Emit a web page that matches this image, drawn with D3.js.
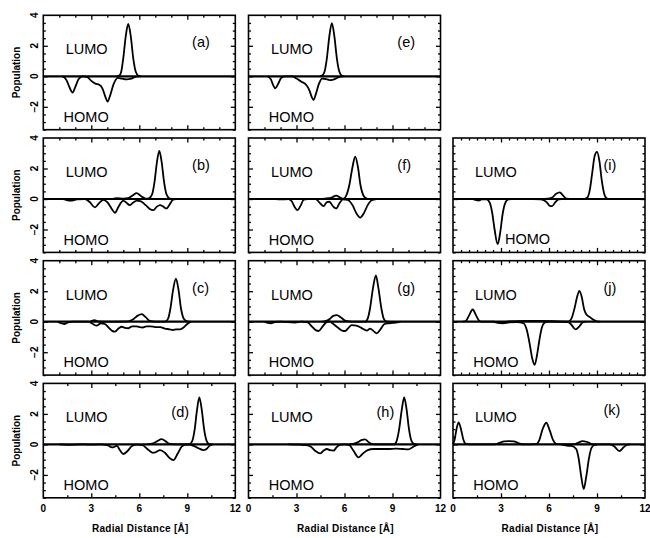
<!DOCTYPE html>
<html>
<head>
<meta charset="utf-8">
<script src="https://cdn.jsdelivr.net/npm/d3@7"></script>
<style>
  body { margin: 0; background: #fff; }
  text { font-family: "Liberation Sans", Arial, Helvetica, sans-serif; fill: #000; }
</style>
</head>
<body>
<svg id="chart" width="650" height="538"></svg>
<script>
// Axis tick labels
const xTickLabels = [0, 3, 6, 9, 12];
const yTickLabels = [-2, 0, 2, 4];
const panelNames = ["(a)", "(b)", "(c)", "(d)", "(e)", "(f)", "(g)", "(h)", "(i)", "(j)", "(k)"];

// Radial population profiles: [distance (Å), population]
const lumoA = [[4.6,0],[4.75,0.05],[4.87,0.3],[5.0,1.2],[5.15,2.6],[5.31,3.43],[5.47,2.6],[5.62,1.2],[5.78,0.3],[5.95,0.03],[6.1,0]];
const homoA = [[1.2,0],[1.45,-0.25],[1.65,-0.75],[1.83,-1.07],[2.0,-0.7],[2.2,-0.2],[2.45,0],[2.75,-0.05],[3.0,-0.3],[3.25,-0.48],[3.5,-0.55],[3.7,-0.8],[3.88,-1.35],[4.02,-1.66],[4.18,-1.25],[4.4,-0.5],[4.65,-0.1],[4.9,-0.15],[5.2,-0.2],[5.5,-0.15],[5.8,-0.02],[6.0,0]];

const lumoB = [[4.3,0],[4.6,0.05],[5.0,0.02],[5.3,0.05],[5.6,0.25],[5.83,0.38],[6.1,0.2],[6.4,0.02],[6.6,0.05],[6.8,0.3],[6.95,1.1],[7.1,2.4],[7.25,3.15],[7.4,2.4],[7.55,1.1],[7.7,0.3],[7.9,0.03],[8.1,0]];
const homoB = [[1.2,0],[1.5,-0.08],[1.8,-0.1],[2.1,-0.02],[2.6,0],[2.9,-0.2],[3.23,-0.55],[3.5,-0.25],[3.75,-0.05],[4.0,-0.2],[4.25,-0.6],[4.48,-0.9],[4.7,-0.5],[5.0,-0.1],[5.2,-0.25],[5.4,-0.4],[5.6,-0.25],[5.85,-0.1],[6.1,-0.15],[6.4,-0.4],[6.65,-0.65],[6.88,-0.73],[7.1,-0.5],[7.3,-0.4],[7.5,-0.5],[7.7,-0.62],[7.9,-0.35],[8.1,-0.05],[8.3,0]];

const lumoC = [[2.9,0],[3.2,0.1],[3.45,0.02],[4.0,0],[5.3,0.02],[5.6,0.15],[5.9,0.4],[6.15,0.5],[6.4,0.3],[6.65,0.05],[7.0,0],[7.6,0],[7.8,0.2],[7.95,0.9],[8.1,2.0],[8.29,2.83],[8.45,2.1],[8.6,0.9],[8.78,0.2],[9.0,0.02],[9.2,0]];
const homoC = [[0.9,0],[1.1,-0.1],[1.3,-0.15],[1.55,-0.05],[1.8,0],[2.8,0],[3.1,-0.15],[3.33,-0.26],[3.6,-0.1],[3.85,-0.15],[4.1,-0.4],[4.3,-0.6],[4.48,-0.65],[4.7,-0.45],[4.9,-0.33],[5.1,-0.4],[5.31,-0.43],[5.55,-0.3],[5.8,-0.3],[6.0,-0.35],[6.2,-0.38],[6.45,-0.3],[6.7,-0.3],[7.0,-0.35],[7.3,-0.35],[7.6,-0.45],[7.9,-0.5],[8.1,-0.55],[8.3,-0.5],[8.55,-0.5],[8.8,-0.35],[9.0,-0.15],[9.2,0]];

const lumoD = [[6.5,0],[6.8,0.05],[7.1,0.2],[7.4,0.35],[7.65,0.2],[7.9,0.03],[8.2,0],[9.1,0],[9.3,0.2],[9.45,0.9],[9.6,2.2],[9.75,3.08],[9.9,2.3],[10.05,1.0],[10.2,0.25],[10.35,0.03],[10.5,0]];
const homoD = [[1.0,0],[1.5,-0.03],[2.5,0],[3.0,-0.02],[3.5,0],[4.0,-0.05],[4.3,-0.2],[4.6,-0.1],[4.8,-0.4],[5.0,-0.63],[5.25,-0.45],[5.55,-0.1],[5.85,-0.02],[6.2,-0.05],[6.5,-0.3],[6.85,-0.55],[7.0,-0.52],[7.3,-0.37],[7.6,-0.55],[7.9,-0.9],[8.13,-1.03],[8.4,-0.6],[8.65,-0.15],[8.9,-0.02],[9.1,-0.02],[9.4,-0.1],[9.7,-0.25],[10.0,-0.37],[10.2,-0.3],[10.4,-0.08],[10.6,0]];

const lumoE = [[4.45,0],[4.6,0.05],[4.75,0.3],[4.9,1.2],[5.05,2.6],[5.21,3.48],[5.37,2.6],[5.52,1.2],[5.68,0.3],[5.85,0.03],[6.0,0]];
const homoE = [[1.2,0],[1.4,-0.2],[1.55,-0.6],[1.67,-0.79],[1.85,-0.5],[2.05,-0.1],[2.3,0],[2.75,0],[3.0,-0.15],[3.3,-0.35],[3.6,-0.55],[3.8,-0.9],[3.95,-1.35],[4.06,-1.55],[4.2,-1.2],[4.4,-0.5],[4.6,-0.15],[4.85,-0.18],[5.15,-0.25],[5.45,-0.15],[5.7,-0.03],[5.9,0]];

const lumoF = [[4.3,0],[4.8,0.03],[5.2,0.1],[5.48,0.22],[5.75,0.08],[5.95,0.02],[6.1,0.2],[6.3,0.9],[6.5,2.1],[6.67,2.78],[6.84,2.1],[7.0,0.9],[7.2,0.2],[7.4,0.02],[7.6,0]];
const homoF = [[1.7,0],[2.0,-0.03],[2.5,0],[2.7,-0.15],[2.9,-0.55],[3.06,-0.73],[3.25,-0.45],[3.45,-0.05],[3.7,0],[4.2,0],[4.45,-0.25],[4.69,-0.47],[4.9,-0.2],[5.05,-0.18],[5.3,-0.5],[5.48,-0.62],[5.7,-0.25],[5.9,-0.02],[6.2,-0.05],[6.5,-0.4],[6.75,-0.95],[6.98,-1.22],[7.2,-0.95],[7.45,-0.4],[7.7,-0.08],[8.0,0]];

const lumoG = [[4.6,0],[4.85,0.05],[5.1,0.2],[5.3,0.38],[5.52,0.43],[5.75,0.3],[6.0,0.1],[6.3,0.02],[6.6,0],[7.3,0],[7.45,0.2],[7.6,0.9],[7.78,2.2],[7.96,3.04],[8.12,2.2],[8.3,0.9],[8.45,0.2],[8.6,0.02],[8.8,0]];
const homoG = [[1.0,0],[1.2,-0.08],[1.4,-0.1],[1.65,-0.02],[2.0,0],[2.9,-0.05],[3.3,0],[3.7,-0.05],[3.95,-0.3],[4.2,-0.55],[4.38,-0.61],[4.6,-0.35],[4.85,-0.05],[5.05,0.02],[5.3,-0.15],[5.6,-0.4],[5.85,-0.58],[6.04,-0.61],[6.25,-0.4],[6.45,-0.22],[6.75,-0.25],[7.05,-0.4],[7.4,-0.58],[7.6,-0.45],[7.8,-0.6],[8.02,-0.76],[8.25,-0.5],[8.5,-0.15],[8.75,-0.1],[9.0,-0.08],[9.3,-0.05],[9.5,0]];

const lumoH = [[6.3,0],[6.55,0.03],[6.85,0.15],[7.05,0.28],[7.29,0.33],[7.5,0.15],[7.75,0.02],[8.0,0],[9.1,0],[9.25,0.2],[9.4,0.9],[9.57,2.2],[9.73,3.08],[9.88,2.3],[10.03,1.0],[10.18,0.25],[10.35,0.03],[10.5,0]];
const homoH = [[2.5,0],[3.2,-0.02],[3.6,-0.05],[3.9,-0.15],[4.2,-0.45],[4.48,-0.59],[4.7,-0.4],[4.9,-0.3],[5.1,-0.38],[5.31,-0.41],[5.5,-0.2],[5.7,-0.03],[6.0,0],[6.3,-0.05],[6.55,-0.4],[6.88,-0.85],[7.15,-0.6],[7.45,-0.37],[7.8,-0.3],[8.3,-0.3],[8.8,-0.3],[9.2,-0.28],[9.6,-0.3],[10.0,-0.33],[10.3,-0.15],[10.6,0]];

const lumoI = [[5.5,0],[5.9,0.02],[6.2,0.1],[6.45,0.35],[6.67,0.44],[6.9,0.2],[7.1,0.02],[7.5,0],[8.2,0],[8.4,0.1],[8.55,0.6],[8.7,1.7],[8.85,2.8],[9.0,3.09],[9.15,2.5],[9.3,1.2],[9.45,0.35],[9.6,0.05],[9.8,0]];
const homoI = [[1.2,0],[1.45,-0.08],[1.6,-0.1],[1.8,-0.03],[2.1,-0.02],[2.3,-0.25],[2.45,-0.9],[2.6,-2.0],[2.79,-2.96],[2.95,-2.2],[3.1,-1.0],[3.25,-0.3],[3.45,-0.03],[3.7,0],[5.0,0],[5.5,-0.02],[5.85,-0.2],[6.05,-0.45],[6.19,-0.47],[6.4,-0.2],[6.6,-0.02],[6.8,0]];

const lumoJ = [[0.6,0],[0.8,0.05],[1.0,0.4],[1.23,0.8],[1.45,0.4],[1.65,0.05],[1.85,0],[2.5,0],[3.0,-0.05],[3.5,0.02],[4.5,0.05],[5.5,0.05],[6.5,0.02],[7.2,0],[7.4,0.2],[7.6,0.9],[7.75,1.6],[7.9,2.02],[8.05,1.6],[8.2,0.8],[8.35,0.45],[8.55,0.3],[8.8,0.12],[9.0,0.02],[9.2,0]];
const homoJ = [[2.5,0],[2.8,-0.08],[3.1,-0.1],[3.5,-0.05],[4.0,-0.02],[4.4,-0.1],[4.6,-0.5],[4.8,-1.5],[4.95,-2.4],[5.1,-2.83],[5.25,-2.2],[5.4,-1.2],[5.55,-0.4],[5.7,-0.08],[5.9,0],[6.8,0],[7.2,-0.02],[7.4,-0.2],[7.65,-0.5],[7.9,-0.3],[8.1,-0.05],[8.3,0]];

const lumoK = [[0.0,0],[0.1,0.3],[0.2,0.9],[0.35,1.44],[0.5,1.0],[0.65,0.3],[0.8,0.03],[1.0,0],[2.6,0],[2.9,0.1],[3.2,0.2],[3.5,0.22],[3.8,0.2],[4.1,0.08],[4.4,0],[5.2,0.02],[5.4,0.3],[5.6,1.0],[5.83,1.42],[6.05,0.9],[6.25,0.3],[6.45,0.03],[6.7,0],[7.5,0],[7.8,0.1],[8.1,0.22],[8.4,0.15],[8.7,0.02],[9.0,0]];
const homoK = [[6.8,0],[7.1,-0.08],[7.4,-0.1],[7.7,-0.3],[7.85,-0.9],[8.0,-2.0],[8.17,-2.93],[8.33,-2.1],[8.5,-0.9],[8.65,-0.25],[8.85,-0.03],[9.1,0],[9.8,0],[10.1,-0.15],[10.4,-0.44],[10.65,-0.2],[10.9,-0.02],[11.1,0]];

const lumoSeries = [lumoA, lumoB, lumoC, lumoD, lumoE, lumoF, lumoG, lumoH, lumoI, lumoJ, lumoK];
const homoSeries = [homoA, homoB, homoC, homoD, homoE, homoF, homoG, homoH, homoI, homoJ, homoK];

// ---- layout ----
const gridRow = [0, 1, 2, 3, 0, 1, 2, 3, 1, 2, 3];
const gridCol = [0, 0, 0, 0, 1, 1, 1, 1, 2, 2, 2];
const colLeft = [43.3, 248.5, 453];
const rowTop = 15.3, rowStep = 122.7;
const pw = 192, ph = 114.4;

// where the panel letter and the LUMO/HOMO captions sit, in data units
const nameAt = { "(d)": [8.0, 1.8], "(h)": [8.0, 1.8] };
const homoAt = { "(i)": [3.25, -2.95] };

const svg = d3.select("#chart");
const line = d3.line().curve(d3.curveMonotoneX);

panelNames.forEach((name, i) => {
  const r = gridRow[i], c = gridCol[i];
  const g = svg.append("g").attr("transform", `translate(${colLeft[c]},${rowTop + r * rowStep})`);
  const x = d3.scaleLinear().domain([0, 12]).range([0, pw]);
  const y = d3.scaleLinear().domain([-3.5, 4]).range([ph, 0]);

  // x tick spacing differs by panel
  let xMinorStep = 1;
  if (r === 3) xMinorStep = 1.5;
  else if (c === 2) xMinorStep = 0.5;
  const xMinor = d3.range(0, 12 + 1e-9, xMinorStep).filter(v => v % 3 !== 0);
  const xMajor = [3, 6, 9];
  const yMinor = d3.range(-3.5, 4 + 1e-9, 0.5).filter(v => v % 2 !== 0);
  const yMajor = [-2, 0, 2];

  const tickStyle = sel => {
    sel.select(".domain").remove();
    sel.selectAll("text").remove();
    sel.selectAll("line").attr("stroke", "#000").attr("stroke-width", 1.3);
  };
  // inward ticks on all four sides
  g.append("g").call(d3.axisBottom(x).tickValues(xMajor).tickSize(4.5)).call(tickStyle);
  g.append("g").call(d3.axisBottom(x).tickValues(xMinor).tickSize(2.5)).call(tickStyle);
  g.append("g").attr("transform", `translate(0,${ph})`).call(d3.axisTop(x).tickValues(xMajor).tickSize(4.5)).call(tickStyle);
  g.append("g").attr("transform", `translate(0,${ph})`).call(d3.axisTop(x).tickValues(xMinor).tickSize(2.5)).call(tickStyle);
  g.append("g").call(d3.axisRight(y).tickValues(yMajor).tickSize(4.5)).call(tickStyle);
  g.append("g").call(d3.axisRight(y).tickValues(yMinor).tickSize(2.5)).call(tickStyle);
  g.append("g").attr("transform", `translate(${pw},0)`).call(d3.axisLeft(y).tickValues(yMajor).tickSize(4.5)).call(tickStyle);
  g.append("g").attr("transform", `translate(${pw},0)`).call(d3.axisLeft(y).tickValues(yMinor).tickSize(2.5)).call(tickStyle);

  // zero line
  g.append("line")
    .attr("x1", 0).attr("x2", pw).attr("y1", y(0)).attr("y2", y(0))
    .attr("stroke", "#000").attr("stroke-width", 2.2);

  // profiles
  [lumoSeries[i], homoSeries[i]].forEach(series => {
    g.append("path")
      .attr("d", line(series.map(d => [x(d[0]), y(d[1])])))
      .attr("fill", "none").attr("stroke", "#000")
      .attr("stroke-width", 1.8).attr("stroke-linejoin", "round");
  });

  // frame
  g.append("rect").attr("width", pw).attr("height", ph)
    .attr("fill", "none").attr("stroke", "#000").attr("stroke-width", 1.6);

  // captions
  const lumoPos = c === 2 ? [1.37, 1.45] : [1.4, 1.45];
  const homoPos = homoAt[name] || [1.27, -3.0];
  g.append("text").attr("x", x(lumoPos[0])).attr("y", y(lumoPos[1]))
    .attr("font-size", 14.5).text("LUMO");
  g.append("text").attr("x", x(homoPos[0])).attr("y", y(homoPos[1]))
    .attr("font-size", 14.5).text("HOMO");
  const np = nameAt[name] || (c === 2 ? [9.4, 1.9] : [9.3, 1.9]);
  g.append("text").attr("x", x(np[0])).attr("y", y(np[1]))
    .attr("font-size", 14.5).text(name);

  // y tick labels on the left column
  if (c === 0) {
    [4, ...yTickLabels.filter(v => v !== 4)].forEach(v => {
      g.append("text")
        .attr("transform", `translate(-5.5,${y(v)}) rotate(-90)`)
        .attr("text-anchor", "middle").attr("font-size", 10).attr("font-weight", "bold")
        .text(v < 0 ? "\u2212" + Math.abs(v) : String(v));
    });
    g.append("text")
      .attr("transform", `translate(-23,${ph / 2}) rotate(-90)`)
      .attr("text-anchor", "middle").attr("font-size", 10).attr("font-weight", "bold")
      .text("Population");
  }

  // x tick labels and title on the bottom row
  if (r === 3) {
    xTickLabels.forEach(v => {
      g.append("text").attr("x", x(v)).attr("y", ph + 14)
        .attr("text-anchor", "middle").attr("font-size", 10).attr("font-weight", "bold")
        .text(v);
    });
    g.append("text").attr("x", pw / 2 + 1).attr("y", ph + 34.5)
      .attr("text-anchor", "middle").attr("font-size", 10).attr("font-weight", "bold")
      .attr("letter-spacing", 0.3)
      .text("Radial Distance [\u00C5]");
  }
});
</script>
</body>
</html>
